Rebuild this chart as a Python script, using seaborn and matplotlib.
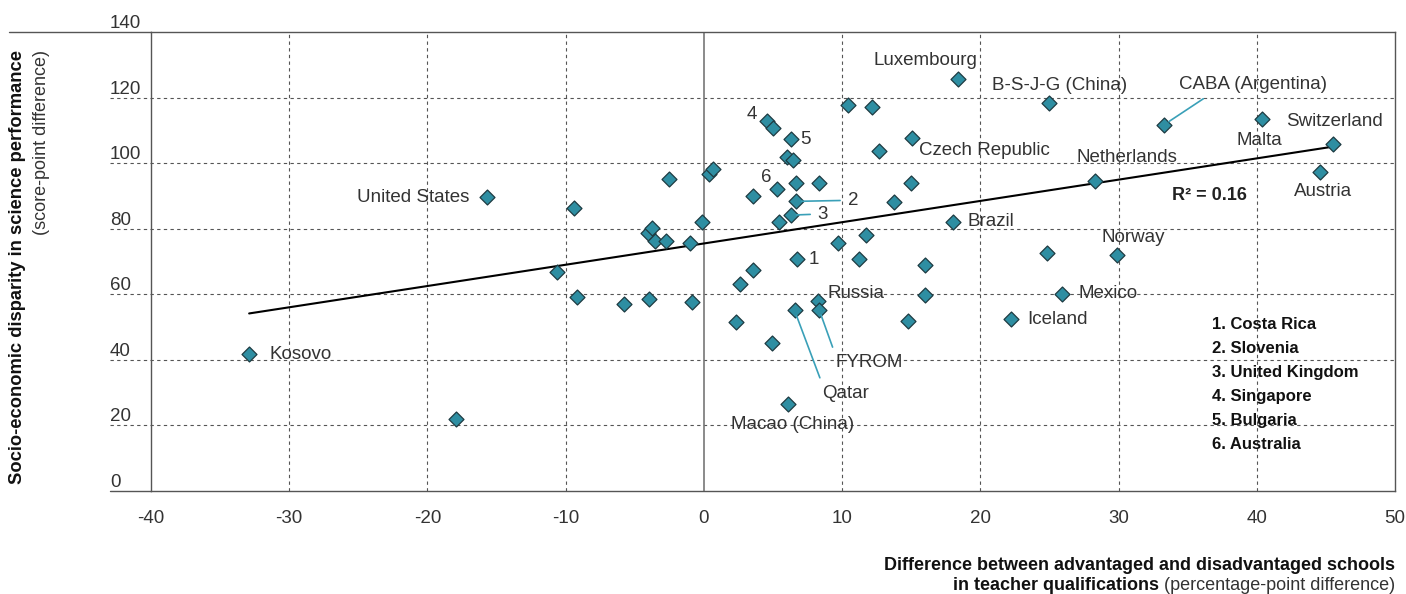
import numpy as np
import pandas as pd
import matplotlib.pyplot as plt
import seaborn as sns

# ==============================
# DATA
# ==============================

teacher_diff = [-32.9, -17.9, -15.7, -10.66, -9.4, -9.16, -5.8, -4.0, -4.05, -3.78,
                -3.57, -2.73, -2.5, -0.99, -0.85, -0.12, 0.38, 0.67, 2.34, 2.63,
                3.52, 3.54, 4.6, 4.97, 4.92, 5.26, 5.45, 5.98, 6.1, 6.29,
                6.29, 6.46, 6.56, 6.65, 6.65, 6.77, 8.22, 8.3, 8.34, 9.69,
                10.44, 11.2, 11.7, 12.15, 12.7, 13.75, 14.8, 14.95, 15.07, 16.0,
                16.0, 18.0, 18.37, 22.2, 24.85, 25.0, 25.9, 28.3, 29.9, 33.3,
                40.4, 44.6, 45.5]

ses_disparity = [41.8, 22.0, 89.7, 66.8, 86.3, 59.3, 57.2, 58.7, 78.6, 80.4,
                 76.3, 76.3, 95.1, 75.6, 57.7, 82.0, 96.6, 98.4, 51.5, 63.2,
                 67.4, 90.0, 113.0, 110.8, 45.3, 92.3, 82.0, 101.8, 26.6, 107.3,
                 84.2, 100.9, 55.1, 94.0, 88.4, 70.8, 57.9, 94.0, 55.3, 75.6,
                 117.7, 70.8, 78.2, 117.1, 103.8, 88.1, 52.0, 94.1, 107.6, 69.0,
                 59.8, 82.2, 125.8, 52.6, 72.7, 118.5, 60.2, 94.6, 72.1, 111.8,
                 113.4, 97.4, 106.0]

point_labels = ["Kosovo", "", "United States", "", "", "", "", "", "", "",
                "", "", "", "", "", "", "", "", "", "",
                "", "", "4", "", "", "6", "", "", "Macao (China)", "5",
                "3", "", "Qatar", "", "2", "1", "Russia", "", "FYROM", "",
                "", "", "", "", "", "", "", "", "Czech Republic", "",
                "", "Brazil", "Luxembourg", "Iceland", "", "B-S-J-G (China)", "Mexico", "Netherlands", "Norway", "CABA (Argentina)",
                "Malta", "Austria", "Switzerland"]

key_lines = ["1. Costa Rica", "2. Slovenia", "3. United Kingdom",
             "4. Singapore", "5. Bulgaria", "6. Australia"]

x_ticks = [-40, -30, -20, -10, 0, 10, 20, 30, 40, 50]
y_ticks = [0, 20, 40, 60, 80, 100, 120, 140]

# label placement: (dx px, dy px, ha, leader relpos or None)
label_style = {
    "Kosovo": (20, 0, "left", None),
    "United States": (-18, 0, "right", None),
    "Luxembourg": (-32, 18, "center", None),
    "B-S-J-G (China)": (10, 17, "center", None),
    "CABA (Argentina)": (89, 40, "center", (0.22, 0)),
    "Malta": (-3, -21, "center", None),
    "Switzerland": (2, 22, "center", None),
    "Austria": (3, -20, "center", None),
    "Netherlands": (32, 24, "center", None),
    "Czech Republic": (7, -12, "left", None),
    "Brazil": (15, 0, "left", None),
    "Norway": (16, 17, "center", None),
    "Mexico": (17, 0, "left", None),
    "Iceland": (17, -1, "left", None),
    "Russia": (10, 8, "left", None),
    "FYROM": (16, -53, "left", (0, 1)),
    "Qatar": (28, -83, "left", (0, 1)),
    "Macao (China)": (4, -21, "center", None),
    "4": (-16, 6, "center", None),
    "5": (15, 0, "center", None),
    "6": (-10, 11, "center", None),
    "1": (16, 0, "center", None),
    "2": (57, 1, "center", (0, 0.5)),
    "3": (32, 1, "center", (0, 0.5)),
}

df = pd.DataFrame({"teacher": teacher_diff, "ses": ses_disparity, "label": point_labels})

# ==============================
# STYLE
# ==============================

sns.set_style("white")
plt.rcParams['font.family'] = ['Liberation Sans', 'DejaVu Sans']
plt.rcParams['axes.unicode_minus'] = False

frame_col = "#555555"
grid_col = "#555555"
point_col = "#2E8EA2"
lead_col = "#3AA0B8"
text_col = "#333333"

W, H = 1406, 594
fig = plt.figure(figsize=(W / 100, H / 100), dpi=100)
ax = fig.add_axes([151 / W, 1 - 491 / H, 1244 / W, 458.7 / H])

# ==============================
# PLOT
# ==============================

sns.regplot(data=df, x="teacher", y="ses", scatter=False, ci=None, truncate=True,
            line_kws=dict(color="black", lw=1.5, zorder=3), ax=ax)
sns.scatterplot(data=df, x="teacher", y="ses", marker="D", s=58, color=point_col,
                edgecolor="#1e3b42", linewidth=0.9, zorder=4, ax=ax)

ax.set_xlim(-40, 50)
ax.set_ylim(0, 140)
ax.set_xticks(x_ticks)
ax.set_yticks(y_ticks)
ax.set_xlabel("")
ax.set_ylabel("")

for s in ax.spines.values():
    s.set_color(frame_col)
    s.set_linewidth(1.0)

# gridlines, extended past the frame like the original
gx = -41 / 1244
for v in y_ticks[1:-1]:
    ax.axhline(v, xmin=gx, xmax=1, color=grid_col, lw=0.8, ls=(0, (3, 3)), clip_on=False, zorder=1)
ax.axhline(0, xmin=gx, xmax=0, color=frame_col, lw=1.0, clip_on=False)
ax.axhline(140, xmin=-142 / 1244, xmax=0, color=frame_col, lw=1.0, clip_on=False)
for v in x_ticks[1:-1]:
    if v == 0:
        ax.axvline(v, color="#777777", lw=1.2, zorder=1)
    else:
        ax.axvline(v, color=grid_col, lw=0.8, ls=(0, (3, 3)), zorder=1)

ax.tick_params(axis="x", length=8, width=0.8, color=frame_col, pad=6,
               labelsize=13.5, labelcolor=text_col)
ax.tick_params(axis="y", length=0, pad=29.5, labelsize=13.5, labelcolor=text_col)
for lab in ax.get_yticklabels():
    lab.set_ha("left")
    lab.set_va("bottom")

# point labels
for x, y, name in zip(teacher_diff, ses_disparity, point_labels):
    if not name:
        continue
    dx, dy, ha, leader = label_style[name]
    arrow = None
    if leader is not None:
        arrow = dict(arrowstyle="-", color=lead_col, lw=1.2, shrinkA=3, shrinkB=4, relpos=leader)
    ax.annotate(name, (x, y), xytext=(dx, dy), textcoords="offset pixels",
                ha=ha, va="center", fontsize=13.5, color=text_col,
                arrowprops=arrow, zorder=5)

ax.text(0.851, 0.644, "R² = 0.16", transform=ax.transAxes, ha="center", va="center",
        fontsize=13, fontweight="bold", color="#222222")

for i, line in enumerate(key_lines):
    ax.text(0.853, 0.3634 - i * 0.0523, line, transform=ax.transAxes, ha="left", va="center",
            fontsize=12, fontweight="bold", color="#111111")

# axis titles
fig.text(18 / W, 1 - 50 / H, "Socio-economic disparity in science performance", rotation=90,
         ha="center", va="top", fontsize=13.2, fontweight="bold", color="#111111")
fig.text(42 / W, 1 - 50 / H, "(score-point difference)", rotation=90,
         ha="center", va="top", fontsize=13, color=text_col)

fig.text(1395 / W, 1 - 566 / H, "Difference between advantaged and disadvantaged schools",
         ha="right", va="center", fontsize=13, fontweight="bold", color="#111111")
t_reg = fig.text(1395 / W, 1 - 586 / H, " (percentage-point difference)",
                 ha="right", va="center", fontsize=13, color=text_col)
fig.canvas.draw()
bb = t_reg.get_window_extent(fig.canvas.get_renderer())
fig.text(bb.x0 / fig.bbox.width, 1 - 586 / H, "in teacher qualifications",
         ha="right", va="center", fontsize=13, fontweight="bold", color="#111111")

fig.savefig("out.png", dpi=100)
plt.close(fig)
